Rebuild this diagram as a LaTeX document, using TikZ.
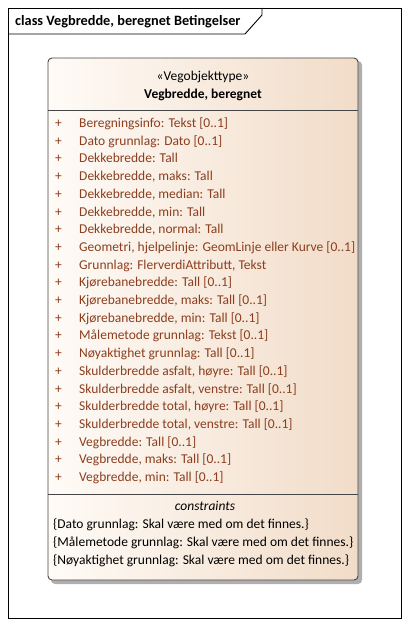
\documentclass[tikz,border=0pt]{standalone}
\usepackage{fontspec}
\setmainfont{Carlito}
\definecolor{attr}{RGB}{140,62,30}
\definecolor{fillL}{RGB}{255,251,247}
\definecolor{fillR}{RGB}{241,220,200}
\definecolor{shadowc}{RGB}{175,175,175}
\newcommand{\fsz}{\fontsize{13.5}{15}\selectfont}
\tikzset{
  frameline/.style={draw=black, line width=0.9pt},
  boxline/.style={draw={rgb,255:red,70;green,70;blue,70}, line width=0.9pt},
  attrrow/.style={anchor=base west, inner sep=0pt, text=attr, font=\fsz},
  plus/.style={anchor=base west, inner sep=0pt, text=attr, font=\fsz},
  conrow/.style={anchor=base west, inner sep=0pt, font=\fsz},
}
\begin{document}
\begin{tikzpicture}[x=1pt,y=-1pt]
\useasboundingbox (0,0) rectangle (409,626);
% outer frame
\draw[frameline] (8,8) rectangle (401,618);
\draw[frameline] (8,34) -- (245,34) -- (262,15) -- (262,8);
\node[anchor=base west, inner sep=0pt, font=\bfseries\fontsize{14.3}{16}\selectfont] (title) at (15,26) {class Vegbredde, beregnet Betingelser};
% shadow
\fill[shadowc, rounded corners=4pt] (51,61) rectangle (362,584);
% box
\path[left color=fillL, right color=fillR, rounded corners=4pt] (48,58) rectangle (358,580);
\draw[boxline, rounded corners=4pt] (48,58) rectangle (358,580);
\draw[boxline] (48,110) -- (358,110);
\draw[boxline] (48,494) -- (358,494);
\node[anchor=base, inner sep=0pt, font=\fsz] (stereo) at (203,80) {«Vegobjekttype»};
\node[anchor=base, inner sep=0pt, font=\bfseries\fsz] (name) at (203,98) {Vegbredde, beregnet};
\foreach \t [count=\i from 0] in {
  Beregningsinfo: Tekst [0..1],
  Dato grunnlag: Dato [0..1],
  Dekkebredde: Tall,
  {Dekkebredde, maks: Tall},
  {Dekkebredde, median: Tall},
  {Dekkebredde, min: Tall},
  {Dekkebredde, normal: Tall},
  {Geometri, hjelpelinje: GeomLinje eller Kurve [0..1]},
  {Grunnlag: FlerverdiAttributt, Tekst},
  Kjørebanebredde: Tall [0..1],
  {Kjørebanebredde, maks: Tall [0..1]},
  {Kjørebanebredde, min: Tall [0..1]},
  Målemetode grunnlag: Tekst [0..1],
  Nøyaktighet grunnlag: Tall [0..1],
  {Skulderbredde asfalt, høyre: Tall [0..1]},
  {Skulderbredde asfalt, venstre: Tall [0..1]},
  {Skulderbredde total, høyre: Tall [0..1]},
  {Skulderbredde total, venstre: Tall [0..1]},
  Vegbredde: Tall [0..1],
  {Vegbredde, maks: Tall [0..1]},
  {Vegbredde, min: Tall [0..1]}
}{
  \node[plus] (p\i) at (55,127.5+17.7*\i) {+};
  \node[attrrow] (a\i) at (79,127.5+17.7*\i) {\t};
}
\node[anchor=base, inner sep=0pt, font=\itshape\fsz] (cons) at (205,510) {constraints};
\node[conrow] (c0) at (53,528) {\{Dato grunnlag: Skal være med om det finnes.\}};
\node[conrow] (c1) at (53,546) {\{Målemetode grunnlag: Skal være med om det finnes.\}};
\node[conrow] (c2) at (53,564) {\{Nøyaktighet grunnlag: Skal være med om det finnes.\}};
\end{tikzpicture}
\end{document}
